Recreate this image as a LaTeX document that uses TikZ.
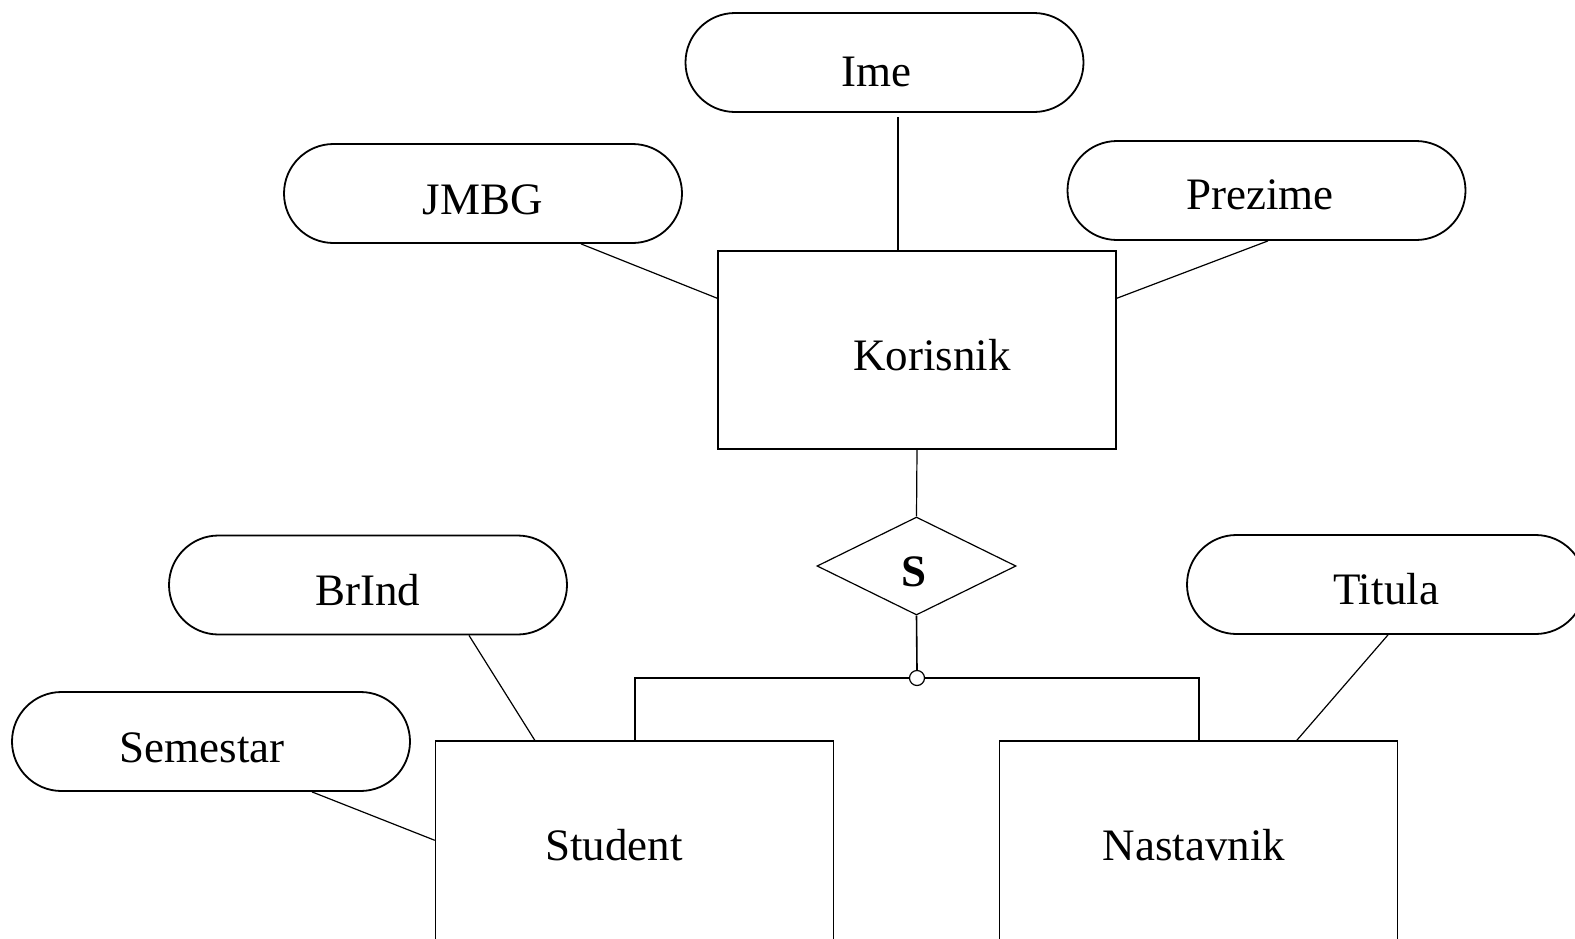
\documentclass[tikz,border=0pt]{standalone}
\usepackage{fontspec}
\setmainfont{Liberation Serif}
\usetikzlibrary{shapes.misc,shapes.geometric,calc}
\begin{document}
\begin{tikzpicture}[x=1pt,y=-1pt,
 pill/.style={rounded rectangle, draw, line width=1.8pt, minimum width=398pt, minimum height=99pt, inner sep=0pt},
 ent/.style={rectangle, draw, line width=1.4pt, inner sep=0pt, minimum width=398pt},
 lbl/.style={anchor=base, font=\fontsize{45}{54}\selectfont, inner sep=0pt},
 conn/.style={line width=1.2pt}]
\useasboundingbox (0,0) rectangle (1575,938);
\clip (0,0) rectangle (1575,938);
\fill[white] (0,0) rectangle (1575,938);
% attributes
\node[pill] (ime) at (884.5,62.5) {};
\node[lbl] (imet) at (876,86) {Ime};
\node[pill] (jmbg) at (483,193.5) {};
\node[lbl] (jmbgt) at (483,214) {JMBG};
\node[pill] (prez) at (1266.5,190.5) {};
\node[lbl] (prezt) at (1260,209) {Prezime};
\node[pill] (brind) at (368,585) {};
\node[lbl] (brindt) at (368,605) {BrInd};
\node[pill] (sem) at (211,741.5) {};
\node[lbl] (semt) at (202,762) {Semestar};
\node[pill] (tit) at (1386,584.5) {};
\node[lbl] (titt) at (1386,604) {Titula};
% entities
\node[ent, minimum height=198pt] (kor) at (917,350) {};
\node[lbl] (kort) at (932,370) {Korisnik};
\node[ent, minimum height=220pt] (stu) at (634.5,851) {};
\node[lbl] (stut) at (614,860) {Student};
\node[ent, minimum height=220pt] (nas) at (1198.5,851) {};
\node[lbl] (nast) at (1194,860) {Nastavnik};
% specialization
\node[diamond, draw, line width=1.2pt, minimum width=199pt, minimum height=98pt, inner sep=0pt] (s) at (916.5,566) {};
\node[lbl, font=\fontsize{45}{54}\selectfont\bfseries] (st) at (914,586) {S};
\node[circle, draw, fill=white, minimum size=15pt, inner sep=0pt, line width=1.2pt] (j) at (917,678) {};
\coordinate (hl) at (635,678);
\coordinate (hr) at (1199,678);
% connectors
\draw[conn] ($(ime.south)+(13.5,4)$) -- ($(kor.north)+(-19,0)$);
\draw[conn] ($(jmbg.south)+(98,0)$) -- ($(kor.north west)+(0,48)$);
\draw[conn] ($(prez.south)+(1.5,0)$) -- ($(kor.north east)+(0,48)$);
\draw[conn] (kor.south) -- (s.north);
\draw[line width=1.6pt] (s.south) -- (j.north);
\draw[line width=1.4pt] (j.west) -- (hl) -- (stu.north -| hl);
\draw[line width=1.4pt] (j.east) -- (hr) -- (nas.north -| hr);
\draw[conn] ($(brind.south)+(101,0)$) -- ($(stu.north west)+(100,0)$);
\draw[conn] ($(sem.south)+(101,0)$) -- ($(stu.north west)+(0,100)$);
\draw[conn] ($(tit.south)+(2,0)$) -- ($(nas.north west)+(298,0)$);
\end{tikzpicture}
\end{document}
